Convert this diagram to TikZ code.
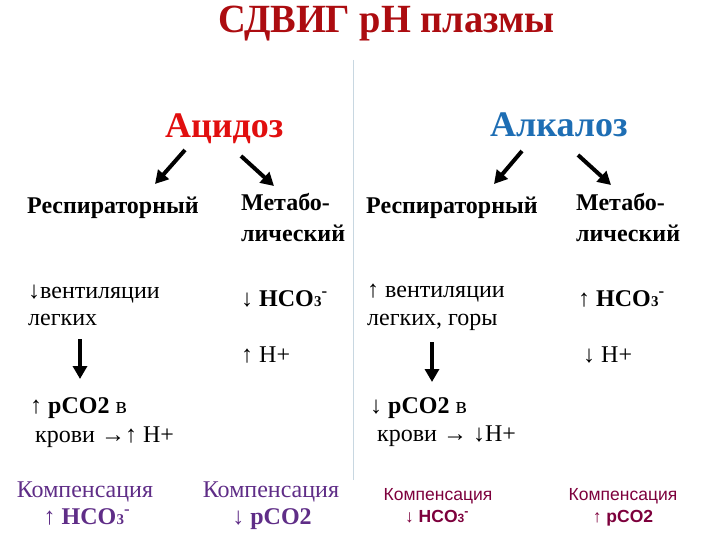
\documentclass[tikz,border=0pt]{standalone}
\usepackage{fontspec}
\setmainfont{Liberation Serif}
\newfontfamily\arialf{Liberation Sans}
\usetikzlibrary{arrows.meta}
\definecolor{titlered}{RGB}{172,12,16}
\definecolor{acidred}{RGB}{225,15,15}
\definecolor{alkblue}{RGB}{30,110,180}
\definecolor{comppurple}{RGB}{95,45,135}
\definecolor{compmag}{RGB}{125,0,60}
\definecolor{divline}{RGB}{200,215,225}
\newcommand{\fs}[1]{\fontsize{#1}{#1}\selectfont}
\newcommand{\hcothree}{HCO\kern0.3pt{\fs{15}3}\textsuperscript{\bfseries -}}
\tikzset{
  txt/.style={inner sep=0pt, anchor=base west, font=\fs{24}},
  bld/.style={txt, font=\fs{24}\bfseries},
  ctr/.style={inner sep=0pt, anchor=base},
  bigarrow/.style={line width=4pt, -{Triangle[length=13pt,width=14pt]}},
}
\begin{document}
\begin{tikzpicture}[x=1pt,y=-1pt]
\useasboundingbox (0,0) rectangle (720,540);
% divider
\draw[divline, line width=1pt] (353,60) -- (353,480);
% title
\node[inner sep=0pt, anchor=base west, text=titlered, font=\fs{40}\bfseries] (title) at (218,33) {\scalebox{0.96}[1]{СДВИГ pH плазмы}};
% main headings
\node[inner sep=0pt, anchor=base west, text=acidred, font=\fs{36}\bfseries] (acid) at (165,138) {Ацидоз};
\node[inner sep=0pt, anchor=base west, text=alkblue, font=\fs{36}\bfseries] (alk) at (490,137) {Алкалоз};
% arrow coordinates
\coordinate (a1s) at (185,150); \coordinate (a1e) at (155,184);
\coordinate (a2s) at (241,156); \coordinate (a2e) at (274,186);
\coordinate (b1s) at (522,151); \coordinate (b1e) at (494,184);
\coordinate (b2s) at (578,155); \coordinate (b2e) at (611,185);
\draw[bigarrow] (a1s) -- (a1e);
\draw[bigarrow] (a2s) -- (a2e);
\draw[bigarrow] (b1s) -- (b1e);
\draw[bigarrow] (b2s) -- (b2e);
% types
\node[bld] (respL) at (27,214) {Респираторный};
\node[bld] (metL1) at (241,211) {Метабо-};
\node[bld] (metL2) at (241,241) {лический};
\node[bld] (respR) at (366,214) {Респираторный};
\node[bld] (metR1) at (576,211) {Метабо-};
\node[bld] (metR2) at (576,241) {лический};
% causes
\node[txt] (ventL1) at (28,298) {↓вентиляции};
\node[txt] (ventL2) at (28,325) {легких};
\node[txt] (hcoL) at (241,306) {↓ {\bfseries\hcothree}};
\node[txt] (ventR1) at (367,297) {↑ вентиляции};
\node[txt] (ventR2) at (367,325) {легких, горы};
\node[txt] (hcoR) at (578,306) {↑ {\bfseries\hcothree}};
\node[txt] (hL) at (241,362) {↑ H+};
\node[txt] (hR) at (583,362) {↓ H+};
% down arrows
\coordinate (dLs) at (80,339); \coordinate (dLe) at (80,379);
\coordinate (dRs) at (432,342); \coordinate (dRe) at (432,382);
\draw[bigarrow] (dLs) -- (dLe);
\draw[bigarrow] (dRs) -- (dRe);
% effects
\node[txt] (pcoL1) at (30,413) {↑ {\bfseries pCO2} в};
\node[txt] (pcoL2) at (35,442) {крови →↑ H+};
\node[txt] (pcoR1) at (370,413) {↓ {\bfseries pCO2} в};
\node[txt] (pcoR2) at (377,441) {крови → ↓H+};
% compensation
\node[ctr, text=comppurple, font=\fs{24}] (cA1) at (85,497) {Компенсация};
\node[ctr, text=comppurple, font=\fs{24}] (cA2) at (87,524) {↑ {\bfseries\hcothree}};
\node[ctr, text=comppurple, font=\fs{24}] (cB1) at (271,497) {Компенсация};
\node[ctr, text=comppurple, font=\fs{24}] (cB2) at (272,524) {↓ {\bfseries pCO2}};
\node[ctr, text=compmag, font=\arialf\fs{17.5}] (cC1) at (438,500) {Компенсация};
\node[ctr, text=compmag, font=\arialf\fs{17.5}] (cC2) at (437,522) {↓ {\bfseries HCO{\fs{12}3}\textsuperscript{-}}};
\node[ctr, text=compmag, font=\arialf\fs{17.5}] (cD1) at (623,500) {Компенсация};
\node[ctr, text=compmag, font=\arialf\fs{17.5}] (cD2) at (623,522) {↑ {\bfseries pCO2}};
\end{tikzpicture}
\end{document}
